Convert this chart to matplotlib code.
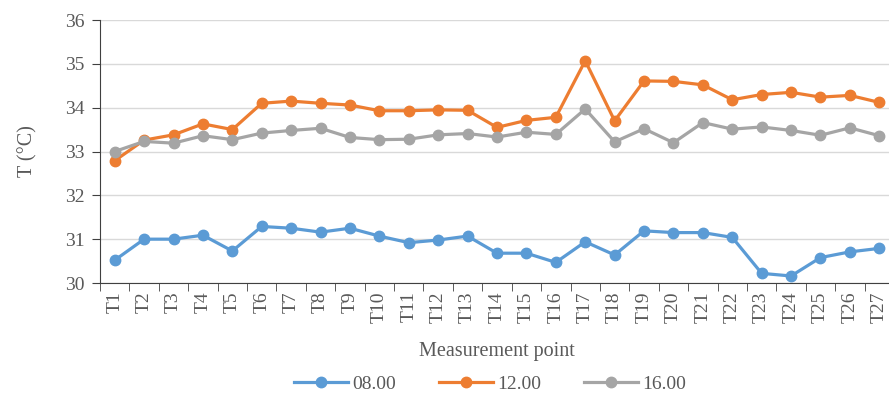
import matplotlib
matplotlib.use("Agg")
from matplotlib import pyplot as plt

points = ["T%d" % i for i in range(1, 28)]
t0800 = [30.52, 31.00, 31.00, 31.09, 30.73, 31.29, 31.25, 31.16, 31.25, 31.07,
         30.92, 30.98, 31.07, 30.68, 30.68, 30.47, 30.94, 30.64, 31.19, 31.15,
         31.15, 31.04, 30.22, 30.16, 30.58, 30.71, 30.79]
t1200 = [32.79, 33.26, 33.38, 33.63, 33.50, 34.10, 34.15, 34.10, 34.06, 33.93,
         33.93, 33.95, 33.94, 33.55, 33.71, 33.78, 35.07, 33.70, 34.61, 34.60,
         34.52, 34.18, 34.30, 34.35, 34.24, 34.28, 34.12]
t1600 = [33.00, 33.23, 33.19, 33.36, 33.27, 33.42, 33.48, 33.53, 33.32, 33.27,
         33.28, 33.38, 33.41, 33.33, 33.44, 33.39, 33.97, 33.22, 33.52, 33.20,
         33.66, 33.51, 33.56, 33.48, 33.37, 33.54, 33.36]
labels = ["08.00", "12.00", "16.00"]
colors = ["#5B9BD5", "#ED7D31", "#A5A5A5"]

txt = "#595959"
plt.rcParams["font.family"] = ["Liberation Serif", "DejaVu Serif"]

fig = plt.figure(figsize=(8.89, 3.94), dpi=100)
ax = fig.add_axes([100 / 889, 1 - 283 / 394, 794 / 889, 263 / 394])

x = range(1, len(points) + 1)
for ys, lab, c in zip([t0800, t1200, t1600], labels, colors):
    ax.plot(x, ys, color=c, lw=2.3, marker="o", ms=7.5, label=lab)

ax.set_xlim(0.5, len(points) + 0.5)
ax.set_ylim(30, 36)
ax.set_yticks(range(30, 37))
ax.set_xticks(list(x))
ax.set_xticklabels(points, rotation=90)
ax.set_xticks([i + 0.5 for i in range(0, len(points) + 1)], minor=True)
ax.tick_params(axis="x", which="major", length=0, labelsize=14, colors=txt, pad=6)
ax.tick_params(axis="x", which="minor", length=6, color="#404040", direction="out")
ax.tick_params(axis="y", length=6, color="#404040", labelsize=14, labelcolor=txt, pad=5)

ax.grid(axis="y", color="#D9D9D9", lw=1)
ax.set_axisbelow(True)
for s in ["top", "right"]:
    ax.spines[s].set_visible(False)
ax.spines["left"].set_color("#404040")
ax.spines["bottom"].set_color("#404040")

ax.set_ylabel("T (°C)", fontsize=14.5, color=txt, labelpad=20)
ax.set_xlabel("Measurement point", fontsize=14.5, color=txt, labelpad=14)

fig.legend(loc="center", bbox_to_anchor=(490 / 889, 1 - 384 / 394), ncol=3,
           frameon=False, fontsize=14, labelcolor=txt, handlelength=2.8,
           columnspacing=2.2, handletextpad=0.2)

fig.savefig("out.png", dpi=100)
